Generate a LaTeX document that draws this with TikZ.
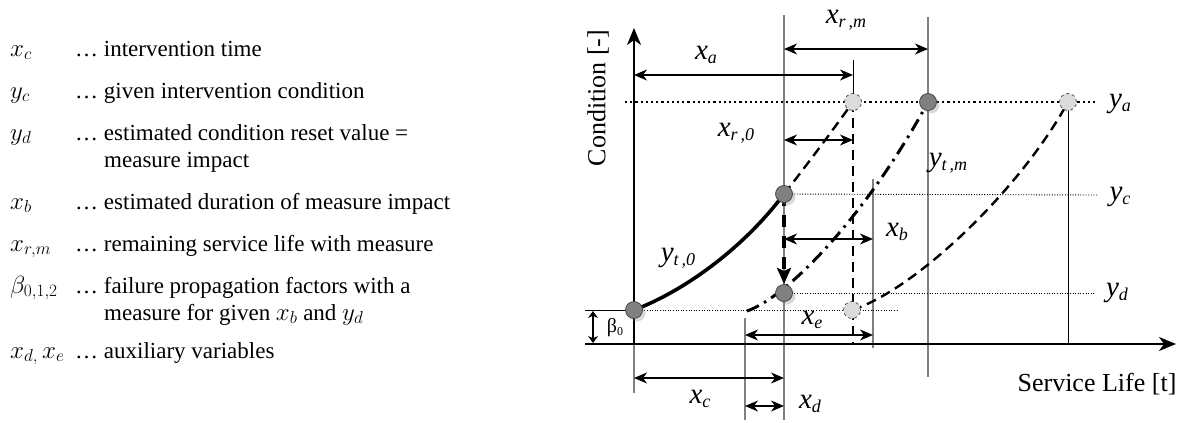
\documentclass[tikz,border=0pt]{standalone}
\usepackage{fontspec}
\setmainfont{Liberation Serif}
\usetikzlibrary{arrows.meta,shadows}
\newcommand\lbl[2]{#1\raisebox{-0.3ex}{\fontsize{18}{18}\selectfont #2}}
\tikzset{
  lab/.style={font=\fontsize{29}{29}\selectfont\itshape, inner sep=0pt},
  leg/.style={font=\fontsize{23}{27}\selectfont, inner sep=0pt, anchor=base west},
  axlab/.style={font=\fontsize{26}{26}\selectfont, inner sep=0pt},
  dim/.style={draw, line width=1.2pt, {Stealth[length=13pt,width=11pt,inset=4pt]}-{Stealth[length=13pt,width=11pt,inset=4pt]}},
  gline/.style={draw=black!50, line width=1.3pt},
  bline/.style={draw=black, line width=0.9pt},
  thindot/.style={draw, line width=0.9pt, dash pattern=on 1pt off 1.6pt},
  thickdot/.style={draw, line width=2.2pt, dash pattern=on 2.2pt off 3pt},
  dashcurve/.style={draw, line width=2.4pt, dash pattern=on 10pt off 6pt},
  dashdot/.style={draw, line width=3pt, dash pattern=on 13pt off 6pt on 2.5pt off 6pt},
  darkpt/.style={circle, fill=black!50, draw=black!75, line width=0.7pt, minimum size=17pt, inner sep=0pt,
    drop shadow={opacity=0.3, shadow xshift=3pt, shadow yshift=-3pt}},
  lightpt/.style={circle, fill=black!14, draw=black!75, dashed, line width=0.7pt, minimum size=17pt, inner sep=0pt},
  axis/.style={draw, line width=2pt, -{Stealth[length=17pt,width=14pt,inset=5pt]}}
}
\begin{document}
\begin{tikzpicture}[x=1pt,y=-1pt]
\useasboundingbox (0,0) rectangle (1184,423);
% ---------------- legend ----------------
\node[leg] (s1) at (10,56) {$x_c$};
\node[leg] (t1) at (75,56) {… intervention time};
\node[leg] (s2) at (10,98) {$y_c$};
\node[leg] (t2) at (75,98) {… given intervention condition};
\node[leg] (s3) at (10,140) {$y_d$};
\node[leg] (t3) at (75,140) {… estimated condition reset value =};
\node[leg] (t3b) at (104,167) {measure impact};
\node[leg] (s4) at (10,209) {$x_b$};
\node[leg] (t4) at (75,209) {… estimated duration of measure impact};
\node[leg] (s5) at (10,251) {$x_{r,m}$};
\node[leg] (t5) at (75,251) {… remaining service life with measure};
\node[leg] (s6) at (10,293) {$\beta_{0,1,2}$};
\node[leg] (t6) at (75,293) {… failure propagation factors with a};
\node[leg] (t6b) at (104,320) {measure for given $x_b$ and $y_d$};
\node[leg] (s7) at (10,358) {$x_{d,}\,x_e$};
\node[leg] (t7) at (75,358) {… auxiliary variables};
% ---------------- coordinates ----------------
\coordinate (P0) at (634,310);
\coordinate (PC) at (784,194);
\coordinate (PD) at (784,293);
\coordinate (PA1) at (853,102);
\coordinate (PAM) at (928,102);
\coordinate (PA2) at (1068,102);
\coordinate (PE) at (852,310);
\coordinate (O) at (634,344);
\coordinate (XL) at (585,344);
\coordinate (XE) at (1176,344);
\coordinate (YE) at (634,28);
% ---------------- helper lines ----------------
\draw[gline] (784,15) coordinate (v1t) -- (784,420) coordinate (v1b);
\draw[gline] (928,17) coordinate (v2t) -- (928,377) coordinate (v2b);
\draw[gline] (873,179) coordinate (v3t) -- (873,348) coordinate (v3b);
\draw[gline] (745,318) coordinate (v4t) -- (745,420) coordinate (v4b);
\draw[gline] (O) -- (634,393) coordinate (v5b);
\draw[bline] (853,60) coordinate (v6t) -- (PA1);
\draw[bline] (PA2) -- (1068,344) coordinate (v7b);
\draw[bline] (585,310) coordinate (b0l) -- (P0);
% dotted levels
\draw[thickdot] (625,102) coordinate (yal) -- (1098,102) coordinate (yar);
\draw[thindot] (PC) -- (1097,195) coordinate (ycr);
\draw[thindot] (PD) -- (1095,293) coordinate (ydr);
\draw[thindot] (P0) -- (897,310) coordinate (y0r);
% axes
\draw[axis] (XL) -- (XE);
\draw[axis] (O) -- (YE);
% beta0
\draw[line width=2pt, {Stealth[length=7pt,width=10pt]}-{Stealth[length=7pt,width=10pt]}] (593,311) coordinate (b0t) -- (593,343) coordinate (b0b);
% curves
\draw[line width=3.6pt] (P0) .. controls (682,292) and (742,250) .. (PC);
\draw[dashcurve] (PC) .. controls (803,170) and (830,134) .. (PA1);
\draw[dashcurve] (PA1) -- (853,344);
\draw[dashcurve] (PE) .. controls (915,290) and (1020,190) .. (PA2);
\draw[dashdot] (747,311) coordinate (dds) .. controls (790,296) and (870,210) .. (PAM);
% reset arrow
\draw[line width=4pt, dash pattern=on 12pt off 9pt, -{Stealth[length=16pt,width=14pt,inset=3pt]}] (PC) -- ([yshift=9pt]PD);
% dimension arrows
\draw[dim] (634,75) coordinate (xal) -- (853,75) coordinate (xar);
\draw[dim] (784,49) coordinate (xrml) -- (928,49) coordinate (xrmr);
\draw[dim] (784,140) coordinate (xr0l) -- (853,140) coordinate (xr0r);
\draw[dim] (784,239) coordinate (xbl) -- (873,239) coordinate (xbr);
\draw[dim] (745,335) coordinate (xel) -- (873,335) coordinate (xer);
\draw[dim] (634,378) coordinate (xcl) -- (784,378) coordinate (xcr);
\draw[dim] (745,406) coordinate (xdl) -- (784,406) coordinate (xdr);
% points
\node[darkpt] (n0) at (P0) {};
\node[darkpt] (nc) at (PC) {};
\node[darkpt] (nd) at (PD) {};
\node[darkpt] (nam) at (PAM) {};
\node[lightpt] (na1) at (PA1) {};
\node[lightpt] (na2) at (PA2) {};
\node[lightpt] (ne) at (PE) {};
% labels
\node[lab] (lxa) at (706,55) {\lbl{x}{a}};
\node[lab] (lxrm) at (846,20) {\lbl{x}{r\,,m}};
\node[lab] (lxr0) at (736,133) {\lbl{x}{r\,,0}};
\node[lab] (lytm) at (948,163) {\lbl{y}{t\,,m}};
\node[lab] (lya) at (1120,104) {\lbl{y}{a}};
\node[lab] (lyc) at (1120,197) {\lbl{y}{c}};
\node[lab] (lyd) at (1117,293) {\lbl{y}{d}};
\node[lab] (lxb) at (897,232) {\lbl{x}{b}};
\node[lab] (lyt0) at (678,258) {\lbl{y}{t\,,0}};
\node[lab] (lxe) at (812,320) {\lbl{x}{e}};
\node[lab] (lxc) at (700,399) {\lbl{x}{c}};
\node[lab] (lxd) at (810,404) {\lbl{x}{d}};
\node[font=\fontsize{20}{20}\selectfont, inner sep=0pt] (lb0) at (615,328) {β\raisebox{-0.3ex}{\fontsize{12}{12}\selectfont 0}};
\node[axlab, rotate=90] (lcond) at (598,98) {Condition [-]};
\node[axlab] (lsl) at (1097,384) {Service Life [t]};
\end{tikzpicture}
\end{document}
